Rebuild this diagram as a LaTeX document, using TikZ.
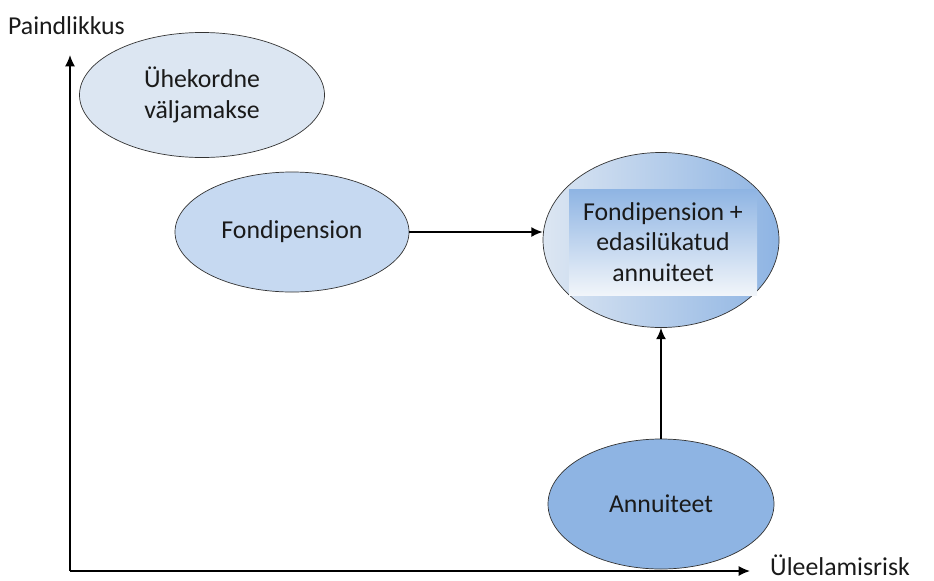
\documentclass[tikz,border=0pt]{standalone}
\usepackage{fontspec}
\setmainfont{Carlito}
\usetikzlibrary{%
  arrows.meta,%
  shapes.geometric%
}
\tikzset{>={Latex[length=3.4mm,width=3mm]}}
\definecolor{palest}{HTML}{DCE6F2}
\definecolor{pale}{HTML}{C6D9F1}
\definecolor{mid}{HTML}{8EB4E3}
\definecolor{ink}{HTML}{1A1A1A}

\begin{document}
\begin{tikzpicture}[x=0.03cm,y=-0.03cm,
  font=\fontsize{22}{26}\selectfont,text=ink,
  bubble/.style={ellipse,draw=black!80,line width=0.6pt,inner sep=0pt,align=center},
  conn/.style={->,line width=1.3pt}]
  \useasboundingbox (0,0) rectangle (934,580);
  % axes
  \coordinate (O) at (70,571);
  \coordinate (ytip) at (70,55);
  \coordinate (xtip) at (750,571);
  \draw[conn] (O) -- (ytip);
  \draw[conn] (O) -- (xtip);
  \node[anchor=west] (ylab) at (4,26) {Paindlikkus};
  \node[anchor=west,inner sep=0pt] (xlab) at (770,565) {Üleelamisrisk};
  % bubbles
  \node[bubble,fill=palest,minimum width=7.35cm,minimum height=3.75cm] (once) at (202,95) {Ühekordne\\väljamakse};
  \node[bubble,fill=pale,minimum width=7.02cm,minimum height=3.6cm] (fond) at (292,232) {Fondipension};
  \node[bubble,left color=palest,right color=mid,minimum width=7.08cm,minimum height=5.25cm] (fp) at (661,240) {};
  \node[rectangle,top color=mid,bottom color=palest!40,minimum width=5.64cm,minimum height=3.18cm,align=center] (fptext) at (663,242) {Fondipension +\\edasilükatud\\annuiteet};
  \node[bubble,fill=mid,minimum width=6.78cm,minimum height=3.9cm] (ann) at (661,504) {Annuiteet};
  % links
  \draw[conn] (fond.east) -- (fond.east -| fp.west);
  \draw[conn] (ann.north) -- (fp.south);
\end{tikzpicture}
\end{document}
